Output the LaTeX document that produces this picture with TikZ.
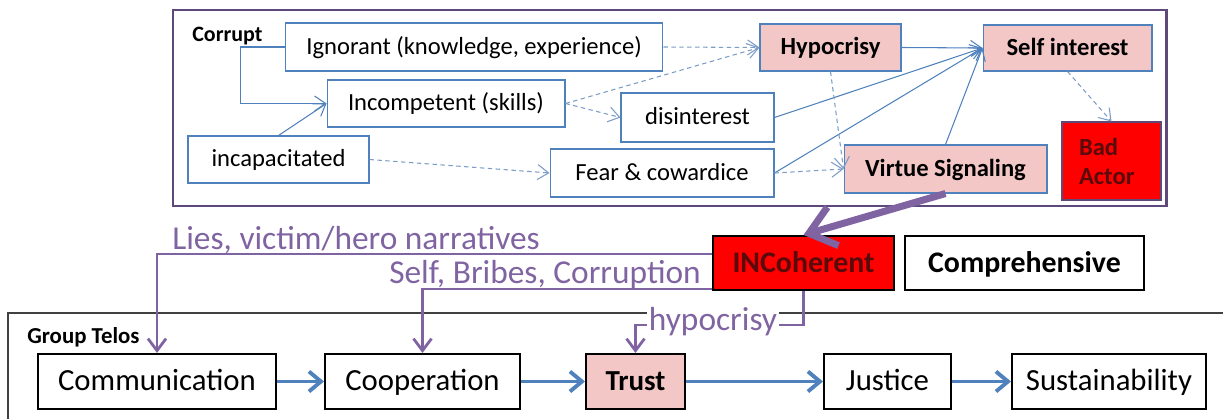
\documentclass[tikz,border=0pt]{standalone}
\usepackage{fontspec}
\setmainfont{Carlito}
\usetikzlibrary{arrows.meta}

\begin{document}
\begin{tikzpicture}[x=0.02cm, y=-0.02cm,
  ubox/.style={draw=colBlue, line width=0.6pt, fill=white, inner sep=0pt, text height=11pt, text depth=2.6pt, font=\fontsize{14}{16.5}\selectfont},
  upink/.style={ubox, fill=colPink, font=\fontsize{14}{16.5}\selectfont\bfseries},
  lbox/.style={draw=black, line width=1.2pt, fill=white, inner sep=0pt, minimum height=1.1cm, text height=14pt, text depth=3.5pt, font=\fontsize{17.5}{20}\selectfont},
  plabel/.style={text=colPurple, inner sep=0pt, anchor=base, font=\fontsize{19}{22}\selectfont},
  thinarr/.style={draw=colBlue, line width=0.6pt, -{Straight Barb[length=2.2mm,width=3mm]}},
  dasharr/.style={thinarr, draw=colDash, dash pattern=on 2.5pt off 2pt},
  parr/.style={draw=colPurple, line width=1.6pt, -{Straight Barb[length=2.4mm,width=3.6mm]}},
  barr/.style={draw=colBlue, line width=2.2pt, -{Straight Barb[length=2.4mm,width=4mm]}}]

% Colori
\definecolor{colBlue}{HTML}{4F81BD}
\definecolor{colDash}{HTML}{7A9CC6}
\definecolor{colPurple}{HTML}{8064A2}
\definecolor{colFrame}{HTML}{5F497A}
\definecolor{colPink}{HTML}{F4C7C7}
\definecolor{colRed}{HTML}{FF0000}
\definecolor{colDark}{HTML}{5A0A0A}
\definecolor{lineGray}{HTML}{404040}

\useasboundingbox (0,0) rectangle (1223,419);

% Riquadri
\draw[colFrame, line width=1.7pt] (173,10) rectangle (1166,206);
\draw[lineGray, line width=0.6pt] (8,419) -- (8,313) -- (1223,313);

\node[anchor=west, inner sep=0pt, font=\fontsize{12.5}{14}\selectfont\bfseries] (corrupt) at (192,36) {Corrupt};
\node[anchor=west, inner sep=0pt, font=\fontsize{13}{15}\selectfont\bfseries] (telos) at (27,337) {Group Telos};

% Corrupt
\node[ubox, minimum width=7.56cm, minimum height=0.96cm] (ign) at (474,47) {Ignorant (knowledge, experience)};
\node[ubox, minimum width=4.76cm, minimum height=0.94cm] (incomp) at (446,103.5) {Incompetent (skills)};
\node[ubox, minimum width=3.62cm, minimum height=0.94cm] (incap) at (278.5,159.5) {incapacitated};
\node[ubox, minimum width=3.06cm, minimum height=0.98cm] (disint) at (697.5,117.5) {disinterest};
\node[ubox, minimum width=4.48cm, minimum height=0.96cm] (fear) at (662,173) {Fear \& cowardice};
\node[upink, minimum width=2.82cm, minimum height=0.94cm] (hypo) at (830.5,47.5) {Hypocrisy};
\node[upink, minimum width=4.06cm, minimum height=0.96cm] (virtue) at (945.5,169) {Virtue Signaling};
\node[upink, minimum width=3.38cm, minimum height=0.92cm] (selfint) at (1067.5,48) {Self interest};
\node[upink, fill=colRed, text=colDark, draw=colFrame, align=left, text height=, text depth=, text width=1.3cm, minimum width=1.98cm, minimum height=1.56cm] (bad) at (1111.5,161) {Bad\\Actor};

\draw[thinarr] (ign.west) -- ++(-44,0) |- (incomp.west);
\draw[thinarr] (incap.north) -- (incomp.west);
\draw[dasharr] (incap.east) -- (fear.west);
\draw[dasharr] (ign.east) -- (hypo.west);
\draw[dasharr] (incomp.east) -- (hypo.west);
\draw[dasharr] (incomp.east) -- (disint.west);
\draw[thinarr] (hypo.east) -- (selfint.west);
\draw[thinarr] (disint.east) -- (selfint.west);
\draw[thinarr] (fear.east) -- (selfint.west);
\draw[dasharr] (fear.east) -- (virtue.west);
\draw[dasharr] (hypo.south) -- (virtue.west);
\draw[thinarr] (virtue.north) -- (selfint.west);
\draw[dasharr] (selfint.south) -- (bad.north);

% Coerenza
\node[lbox, fill=colRed, text=colDark, minimum width=3.62cm, minimum height=1.08cm, font=\fontsize{17}{20}\selectfont\bfseries] (inc) at (803.5,263) {INCoherent};
\node[lbox, minimum width=4.78cm, minimum height=1.08cm, font=\fontsize{17}{20}\selectfont\bfseries] (compr) at (1024.5,263) {Comprehensive};

\draw[colPurple, line width=4pt, -{Straight Barb[length=5mm,width=8mm]}] (virtue.south) -- (inc.north);

% Group Telos
\node[lbox, minimum width=4.76cm] (comm) at (157,381.5) {Communication};
\node[lbox, minimum width=3.9cm] (coop) at (422.5,381.5) {Cooperation};
\node[lbox, fill=colPink, minimum width=1.98cm, font=\fontsize{16.5}{20}\selectfont\bfseries] (trust) at (635.5,381.5) {Trust};
\node[lbox, minimum width=2.54cm] (just) at (887.5,381.5) {Justice};
\node[lbox, minimum width=3.88cm] (sust) at (1109,381.5) {Sustainability};

\draw[barr] (comm) -- (coop);
\draw[barr] (coop) -- (trust);
\draw[barr] (trust) -- (just);
\draw[barr] (just) -- (sust);

% Frecce viola
\draw[parr] ([yshift=0.18cm]inc.west) -| (comm.north);
\draw[parr] ([yshift=-0.52cm]inc.west) -| (coop.north);
\draw[parr] (inc.south) -- ++(0,34) -| (trust.north);

\node[plabel] (lies) at (356,249) {Lies, victim/hero narratives};
\node[plabel] (bribes) at (545,283) {Self, Bribes, Corruption};
\node[plabel, fill=white, inner xsep=1pt] (hyplbl) at (713,330) {hypocrisy};

\end{tikzpicture}
\end{document}
